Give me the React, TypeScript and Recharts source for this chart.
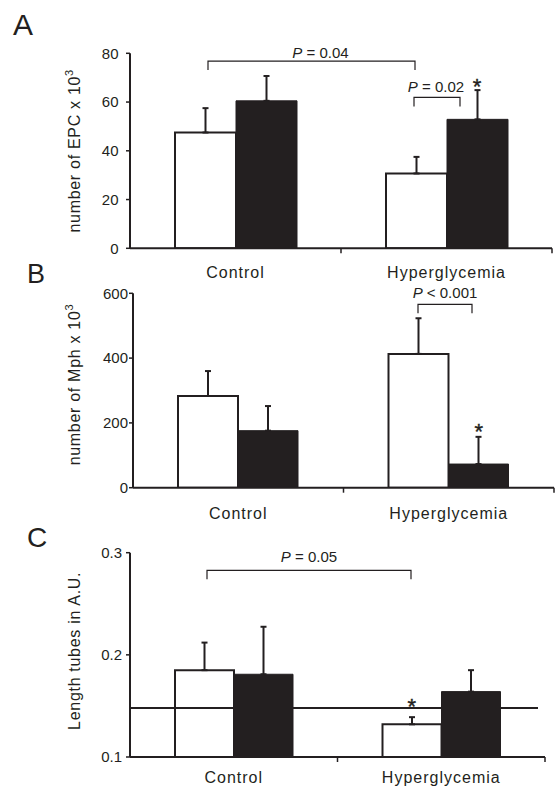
import React from 'react';
import { BarChart, Bar, XAxis, YAxis, ErrorBar, ReferenceLine, ReferenceDot } from 'recharts';

const INK = '#231f20';
const FONT = '"Liberation Sans", Arial, Helvetica, sans-serif';

const categories = ['Control', 'Hyperglycemia'];

// A - EPC (x 10^3)
const epcOpen = [47.5, 30.7];
const epcOpenErr = [10, 6.8];
const epcFilled = [60.5, 52.9];
const epcFilledErr = [10.2, 12];
const epcTicks = [0, 20, 40, 60, 80];

// B - Mph (x 10^3)
const mphOpen = [283, 413];
const mphOpenErr = [77, 110];
const mphFilled = [176, 73];
const mphFilledErr = [76, 84];
const mphTicks = [0, 200, 400, 600];

// C - tube length
const tubeOpen = [0.185, 0.132];
const tubeOpenErr = [0.027, 0.007];
const tubeFilled = [0.181, 0.164];
const tubeFilledErr = [0.0465, 0.021];
const tubeTicks = [0.1, 0.2, 0.3];
const tubeBaseline = 0.148;

// significance brackets: category + px shift of each end, height in data units
const epcBrackets = [
    { from: 'Control', fromDx: -27.5, to: 'Hyperglycemia', toDx: -31.5, y: 76.8, op: '=', p: '0.04', textDx: 9, textGap: 3 },
    { from: 'Hyperglycemia', fromDx: -32.5, to: 'Hyperglycemia', toDx: 13.5, y: 61.9, op: '=', p: '0.02', textDx: -1, textGap: 5 },
];
const mphBrackets = [
    { from: 'Hyperglycemia', fromDx: -30.75, to: 'Hyperglycemia', toDx: 23.25, y: 566, op: '<', p: '0.001', textDx: 0, textGap: 6 },
];
const tubeBrackets = [
    { from: 'Control', fromDx: -26.75, to: 'Hyperglycemia', toDx: -30.25, y: 0.2827, op: '=', p: '0.05', textDx: 0, textGap: 8 },
];

// asterisks (which bar of which category)
const epcStars = [{ idx: 1, bar: 'filled', gap: 8 }];
const mphStars = [{ idx: 1, bar: 'filled', gap: 10 }];
const tubeStars = [{ idx: 1, bar: 'open', gap: 15 }];

function rows(open: number[], openErr: number[], filled: number[], filledErr: number[]) {
    return categories.map((name, i) => ({
        name,
        open: open[i],
        filled: filled[i],
        openErr: [0, openErr[i]],
        filledErr: [0, filledErr[i]],
    }));
}

function bracketShape(b: any) {
    return (props: any) => {
        const xa = props.x1 + b.fromDx;
        const xb = props.x2 + b.toDx;
        const y = props.y1;
        return (
            <g>
                <path d={`M${xa},${y + 9} V${y} H${xb} V${y + 9}`} fill="none" stroke={INK} strokeWidth={1.2} />
                <text x={(xa + xb) / 2 + b.textDx} y={y - b.textGap} textAnchor="middle" fontSize={15} fill={INK} fontFamily={FONT}>
                    <tspan fontStyle="italic">P</tspan>
                    {` ${b.op} ${b.p}`}
                </text>
            </g>
        );
    };
}

function starShape(dx: number, gap: number) {
    return (props: any) => (
        <text x={props.cx + dx} y={props.cy - gap + 12} textAnchor="middle" fontSize={22} fill={INK} stroke={INK} strokeWidth={0.4} fontFamily={FONT}>
            *
        </text>
    );
}

interface PanelProps {
    data: any[];
    ticks: number[];
    domain: [number, number];
    title: string;
    sup?: string;
    left: number;
    right: number;
    top: number;
    bottom: number;
    barSize: number;
    tickMargin: number;
    labelDy: number;
    titleDy: number;
    brackets: any[];
    stars: any[];
    fmt?: (v: number) => string;
    baseline?: number;
}

function Panel(p: PanelProps) {
    const halfBand = (p.right - p.left) / (2 * categories.length);
    const xh = 40;
    return (
        <div style={{ position: 'absolute', left: 0, top: 0 }}>
            <BarChart
                width={560}
                height={800}
                data={p.data}
                barGap={0}
                margin={{ top: p.top, right: 560 - p.right, bottom: 800 - p.bottom - xh, left: 0 }}
            >
                <XAxis
                    dataKey="name"
                    height={xh}
                    axisLine={{ stroke: INK, strokeWidth: 2 }}
                    tickLine={false}
                    tickSize={0}
                    tickMargin={0}
                    interval={0}
                    tick={(t: any) => (
                        <g>
                            <line x1={t.x + halfBand} x2={t.x + halfBand} y1={t.y} y2={t.y + 5} stroke={INK} strokeWidth={1.5} />
                            <text x={t.x} y={t.y + p.labelDy} textAnchor="middle" fontSize={16} letterSpacing={1} fill={INK} fontFamily={FONT}>
                                {t.payload.value}
                            </text>
                        </g>
                    )}
                />
                <YAxis
                    width={p.left}
                    domain={p.domain}
                    ticks={p.ticks}
                    interval={0}
                    allowDataOverflow
                    tickFormatter={p.fmt}
                    axisLine={{ stroke: INK, strokeWidth: 2 }}
                    tickLine={{ stroke: INK, strokeWidth: 1.5 }}
                    tickSize={4}
                    tickMargin={p.tickMargin}
                    tick={{ fill: INK, fontSize: 15, fontFamily: FONT }}
                    label={{
                        content: (lp: any) => {
                            const vb = lp.viewBox;
                            const cy = vb.y + vb.height / 2 + p.titleDy;
                            return (
                                <text
                                    x={80}
                                    y={cy}
                                    transform={`rotate(-90, 80, ${cy})`}
                                    textAnchor="middle"
                                    fontSize={16}
                                    letterSpacing={0.7}
                                    fill={INK}
                                    fontFamily={FONT}
                                >
                                    {p.title}
                                    {p.sup && (
                                        <tspan dy={-7} fontSize={11}>
                                            {p.sup}
                                        </tspan>
                                    )}
                                </text>
                            );
                        },
                    }}
                />
                <Bar dataKey="open" fill="#ffffff" stroke={INK} strokeWidth={2} barSize={p.barSize} isAnimationActive={false}>
                    <ErrorBar dataKey="openErr" width={3} stroke={INK} strokeWidth={2} direction="y" />
                </Bar>
                <Bar dataKey="filled" fill={INK} stroke={INK} strokeWidth={1} barSize={p.barSize} isAnimationActive={false}>
                    <ErrorBar dataKey="filledErr" width={3} stroke={INK} strokeWidth={2} direction="y" />
                </Bar>
                {p.baseline !== undefined && (
                    <ReferenceLine
                        y={p.baseline}
                        shape={(lp: any) => (
                            <line x1={lp.x1} x2={lp.x2 - 7} y1={lp.y1} y2={lp.y2} stroke={INK} strokeWidth={2} />
                        )}
                    />
                )}
                {p.brackets.map((b, i) => (
                    <ReferenceLine
                        key={'b' + i}
                        segment={[
                            { x: b.from, y: b.y },
                            { x: b.to, y: b.y },
                        ]}
                        ifOverflow="visible"
                        shape={bracketShape(b)}
                    />
                ))}
                {p.stars.map((s, i) => {
                    const row = p.data[s.idx];
                    const top = row[s.bar] + row[s.bar + 'Err'][1];
                    const dx = s.bar === 'open' ? -p.barSize / 2 : p.barSize / 2;
                    return (
                        <ReferenceDot
                            key={'s' + i}
                            x={row.name}
                            y={top}
                            ifOverflow="visible"
                            shape={starShape(dx, s.gap)}
                        />
                    );
                })}
            </BarChart>
        </div>
    );
}

export default function App() {
    return (
        <div style={{ position: 'absolute', left: 0, top: 0, width: 560, height: 800, background: '#ffffff', fontFamily: FONT }}>
            <Panel
                data={rows(epcOpen, epcOpenErr, epcFilled, epcFilledErr)}
                ticks={epcTicks}
                domain={[0, 80]}
                title="number of EPC x 10"
                sup="3"
                left={130}
                right={552}
                top={53.3}
                bottom={248.3}
                barSize={61}
                tickMargin={7.5}
                labelDy={29.4}
                titleDy={0}
                brackets={epcBrackets}
                stars={epcStars}
            />
            <Panel
                data={rows(mphOpen, mphOpenErr, mphFilled, mphFilledErr)}
                ticks={mphTicks}
                domain={[0, 600]}
                title="number of Mph x 10"
                sup="3"
                left={133}
                right={554}
                top={293.3}
                bottom={487.7}
                barSize={60}
                tickMargin={1}
                labelDy={31}
                titleDy={-6}
                brackets={mphBrackets}
                stars={mphStars}
            />
            <Panel
                data={rows(tubeOpen, tubeOpenErr, tubeFilled, tubeFilledErr)}
                ticks={tubeTicks}
                domain={[0.1, 0.3]}
                title="Length tubes in A.U."
                left={130}
                right={545}
                top={552.7}
                bottom={757}
                barSize={59}
                tickMargin={4}
                labelDy={26}
                titleDy={-4}
                brackets={tubeBrackets}
                stars={tubeStars}
                fmt={(v: number) => v.toFixed(1)}
                baseline={tubeBaseline}
            />
            <svg width={560} height={800} style={{ position: 'absolute', left: 0, top: 0, pointerEvents: 'none' }}>
                <text x={13} y={35} fontSize={30} fill={INK} fontFamily={FONT}>A</text>
                <text x={27} y={283} fontSize={27} fill={INK} fontFamily={FONT}>B</text>
                <text x={27} y={547} fontSize={28} fill={INK} fontFamily={FONT}>C</text>
            </svg>
        </div>
    );
}
